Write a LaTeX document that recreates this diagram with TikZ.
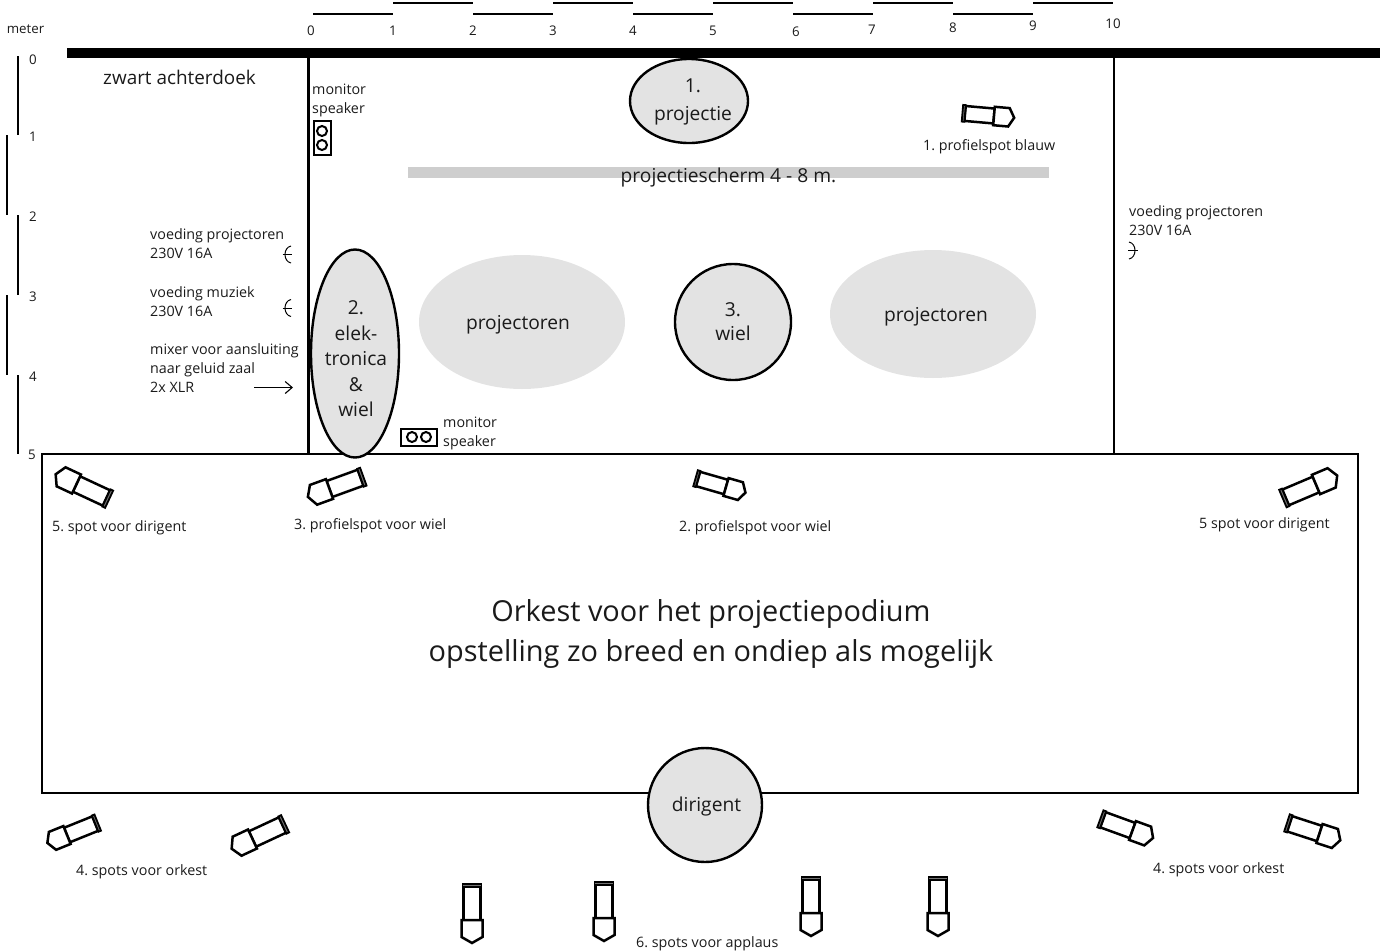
\documentclass[tikz,border=0pt]{standalone}
\usepackage{fontspec}
\setmainfont{Open Sans}
\usetikzlibrary{arrows.meta}
\definecolor{blobgray}{HTML}{E3E3E3}
\definecolor{screengray}{HTML}{CECECE}
\definecolor{ink}{HTML}{1A1A1A}
\frenchspacing
\tikzset{
  x=1pt,y=-1pt,
  rule/.style={line width=2pt,black},
  wall/.style={line width=2.6pt,black},
  blob/.style={fill=blobgray,draw=none},
  blobline/.style={fill=blobgray,draw=black,line width=2.4pt},
  small/.style={font=\fontsize{14.3}{19}\selectfont,text=ink,inner sep=0pt,align=left},
  tiny/.style={font=\fontsize{13.3}{19}\selectfont,text=ink,inner sep=0pt},
  mid/.style={font=\fontsize{19.2}{25.5}\selectfont,text=ink,inner sep=0pt,align=center},
  big/.style={font=\fontsize{28.9}{40}\selectfont,text=ink,inner sep=0pt,align=center},
  lamp/.pic={
    \draw[line width=2.5pt,line join=miter] (-33,-8.5) rectangle (0,8.5);
    \draw[line width=2.5pt,line join=miter,fill=white] (0,-10.5) -- (17,-10.5) -- (23,0) -- (17,10.5) -- (0,10.5) -- cycle;
    \draw[line width=1.8pt,fill=black!55] (-36,-9.5) rectangle (-33,9.5);
  },
  socketl/.pic={
    \draw[line width=1pt] (9,-8.5) .. controls (1,-7) and (1,7) .. (9,8.5);
    \draw[line width=1pt] (0.5,0) -- (10,0);
  },
  socketr/.pic={
    \draw[line width=1pt] (-9,-8.5) .. controls (-1,-7) and (-1,7) .. (-9,8.5);
    \draw[line width=1pt] (-0.5,0) -- (-10,0);
  }
}
\begin{document}
\begin{tikzpicture}
\useasboundingbox (0,0) rectangle (1387,951);
% curtain and walls
\fill[black] (67,47.5) rectangle (1380,58);
\draw[wall] (308.5,58) -- (308.5,454);
\draw[wall] (1114,58) -- (1114,454);
\draw[wall] (42,454) rectangle (1358,793);
% top ruler
\foreach \a/\b/\y in {313/393/14,393/473/3,473/553/14,553/633/3,633/713/14,713/793/3,793/873/14,873/953/3,953/1033/14,1033/1113/3}
  \draw[rule] (\a,\y) -- (\b,\y);
\foreach \n/\x/\y in {0/311/30.5,1/393/30.5,2/473/30.5,3/553/30.5,4/633/30.5,5/713/30.5,6/796/31.5,7/872/29.5,8/953/27.5,9/1033/25.5,10/1113/23.5}
  \node[tiny] (t\n) at (\x,\y) {\n};
% left ruler
\foreach \a/\b/\x in {56/135/18,135/215/7,215/295/18,295/375/7,375/454/18}
  \draw[rule] (\x,\a) -- (\x,\b);
\foreach \n/\x/\y in {0/33/59.5,1/33/136.5,2/33/216.5,3/33/296.5,4/33/376.5,5/32/454.5}
  \node[tiny] (l\n) at (\x,\y) {\n};
\node[tiny] (meter) at (25.5,29) {meter};
% screen
\fill[screengray] (408,167) rectangle (1049,178);
% blobs
\draw[blobline] (689,101) ellipse [x radius=59,y radius=42];
\draw[blobline] (355,353.5) ellipse [x radius=44,y radius=104];
\fill[blob] (522,322) ellipse [x radius=103,y radius=67];
\fill[blob] (933,314) ellipse [x radius=103,y radius=64];
\draw[blobline] (733,322) circle [radius=58];
\draw[blobline] (705,805) circle [radius=57];
\node[mid] (n1) at (693,102) {1.\\[3pt]projectie};
\node[mid] (n2) at (356,359) {2.\\elek-\\tronica\\\&\\wiel};
\node[mid] (pl) at (518,325) {projectoren};
\node[mid] (pr) at (936,317) {projectoren};
\node[mid] (n3) at (733,321.5) {3.\\[-2pt]wiel};
\node[mid] (dir) at (706.5,807) {dirigent};
\node[mid] (scr) at (728.5,178) {projectiescherm 4 - 8 m.};
\node[mid,anchor=west,font=\fontsize{18.9}{25}\selectfont] (zwart) at (103,77.5) {zwart achterdoek};
\node[big] (ork) at (711,634) {Orkest voor het projectiepodium\\opstelling zo breed en ondiep als mogelijk};
% monitor speakers
\draw[line width=2pt] (313.5,120.5) rectangle (331,155);
\draw[line width=2pt] (322,131) circle [radius=5];
\draw[line width=2pt] (322,145) circle [radius=5];
\draw[line width=2pt] (401,428.5) rectangle (436.5,445.5);
\draw[line width=2pt] (412,437) circle [radius=5];
\draw[line width=2pt] (426,437) circle [radius=5];
\node[small,anchor=north west] (m1) at (312,84) {monitor\\speaker};
\node[small,anchor=north west] (m2) at (443,417) {monitor\\speaker};
% side labels
\node[small,anchor=north west] (v1) at (150,228) {voeding projectoren\\230V 16A};
\node[small,anchor=north west] (v2) at (150,286) {voeding muziek\\230V 16A};
\node[small,anchor=north west] (v3) at (150,343) {mixer voor aansluiting\\naar geluid zaal\\2x XLR};
\node[small,anchor=north west] (v4) at (1129,205.5) {voeding projectoren\\230V 16A};
\pic at (282,254.5) {socketl};
\pic at (282,308) {socketl};
\pic at (1138,250.5) {socketr};
\coordinate (arrA) at (254,387.5);
\coordinate (arrB) at (293,387.5);
\draw[line width=1.1pt,-{Straight Barb[length=7pt,width=12pt]}] (arrA) -- (arrB);
% spots
\pic[rotate=155] at (76.5,484) {lamp};
\pic[rotate=200] at (329.5,489) {lamp};
\pic[rotate=-16,scale=.88] at (726,487) {lamp};
\pic[rotate=23] at (1316,484.5) {lamp};
\pic[rotate=-5,scale=.88] at (994,116) {lamp};
\pic[rotate=202,scale=.92] at (67,835) {lamp};
\pic[rotate=205] at (252.5,839) {lamp};
\pic[rotate=-20,scale=.95] at (1132.5,830.5) {lamp};
\pic[rotate=-18,scale=.95] at (1319.5,833.5) {lamp};
\pic[rotate=-90] at (472,920) {lamp};
\pic[rotate=-90] at (604,918) {lamp};
\pic[rotate=-90] at (811,913) {lamp};
\pic[rotate=-90] at (938,913) {lamp};
% spot labels
\node[small,anchor=west] (s1) at (923,146.5) {1. profielspot blauw};
\node[small,anchor=west] (s2) at (52,527.5) {5. spot voor dirigent};
\node[small,anchor=west] (s3) at (294,525.5) {3. profielspot voor wiel};
\node[small,anchor=west] (s4) at (679,527.5) {2. profielspot voor wiel};
\node[small,anchor=west] (s5) at (1199,524.5) {5 spot voor dirigent};
\node[small,anchor=west] (s6) at (76,871.5) {4. spots voor orkest};
\node[small,anchor=west] (s7) at (1153,869.5) {4. spots voor orkest};
\node[small,anchor=west] (s8) at (636,944) {6. spots voor applaus};
\end{tikzpicture}
\end{document}
